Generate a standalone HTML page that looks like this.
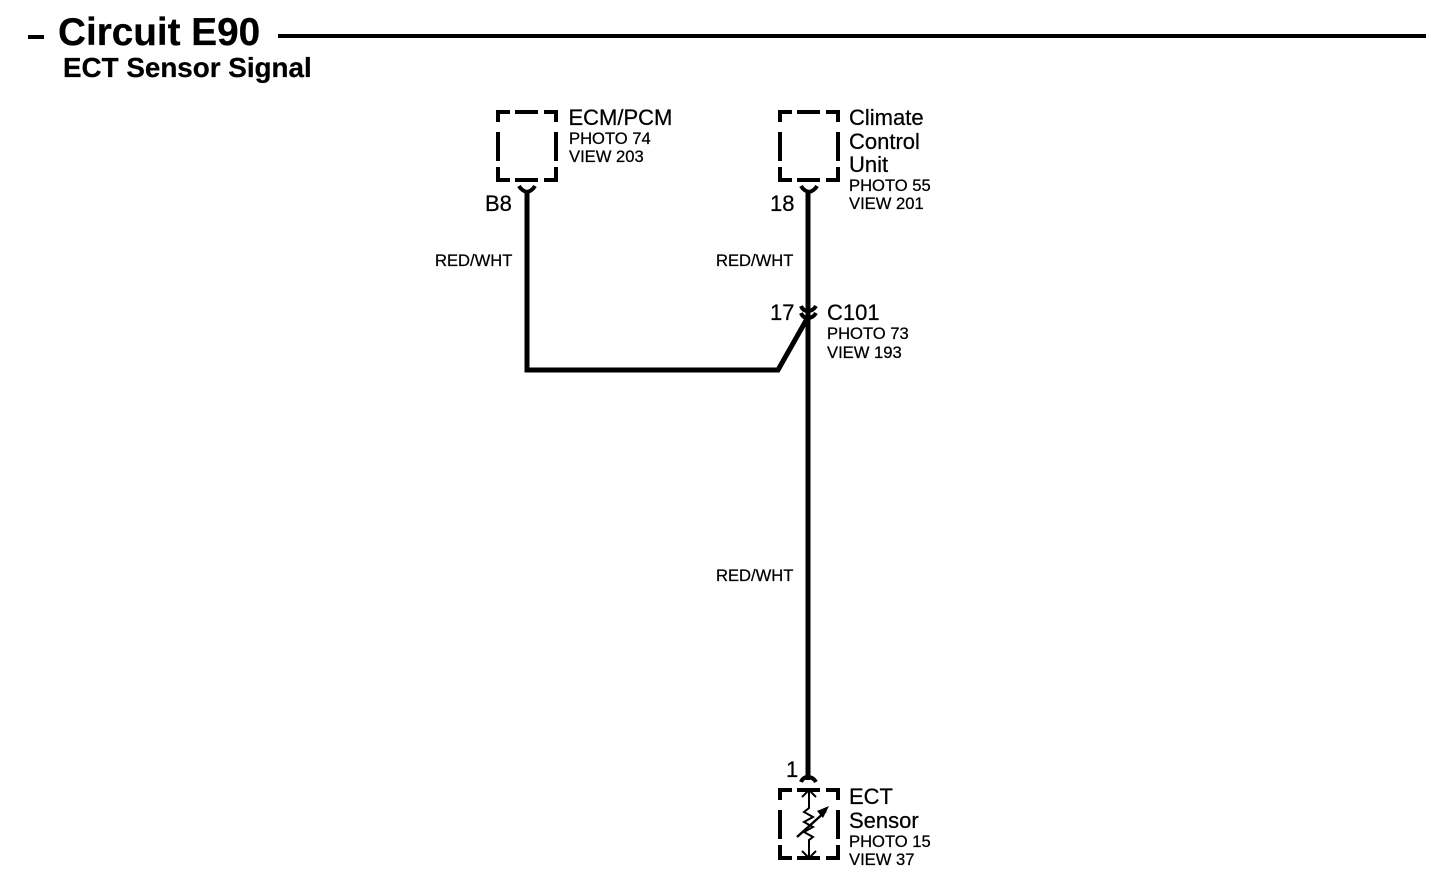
<!DOCTYPE html>
<html><head><meta charset="utf-8"><style>
html,body{margin:0;padding:0;background:#fff;width:1456px;height:892px;overflow:hidden}
svg{display:block}
text{font-family:"Liberation Sans",Arial,sans-serif;fill:#000;stroke:#000;stroke-width:.25px}
.a{font-size:22px}.b{font-size:16.6px}
</style></head><body>
<svg width="1456" height="892" viewBox="0 0 1456 892" xmlns="http://www.w3.org/2000/svg">
<defs>
<g id="box" fill="none" stroke="#000" stroke-width="4">
<path d="M2 12V2H14M19 2H42M48 2H60V12M2 22V51M60 22V51M2 57V70H14M19 70H42M48 70H60V57"/>
</g>
</defs>
<!-- title -->
<rect x="28" y="35" width="16" height="4"/>
<rect x="278" y="34" width="1148" height="4"/>
<text x="58" y="45" font-size="38.700" font-weight="700">Circuit E90</text>
<text x="63" y="77" font-size="27.800" font-weight="700">ECT Sensor Signal</text>

<!-- ECM -->
<use href="#box" x="496" y="110"/>
<text class="a" x="568.500" y="125">ECM/PCM</text>
<text class="b" x="569" y="144">PHOTO 74</text>
<text class="b" x="569" y="162">VIEW 203</text>
<text class="a" x="485" y="211">B8</text>
<text class="b" x="435" y="266">RED/WHT</text>

<!-- Climate -->
<use href="#box" x="778" y="110"/>
<text class="a" x="849" y="125">Climate</text>
<text class="a" x="849" y="149">Control</text>
<text class="a" x="849" y="172">Unit</text>
<text class="b" x="849" y="191">PHOTO 55</text>
<text class="b" x="849" y="209">VIEW 201</text>
<text class="a" x="770" y="211">18</text>
<text class="b" x="716" y="266">RED/WHT</text>

<!-- wires -->
<g fill="none" stroke="#000" stroke-width="5">
<path d="M527 192V370H778L808 317"/>
<path d="M808 192V780"/>
<path d="M519 186Q522 191 527 192Q532 191 535 186" stroke-width="4"/>
<path d="M801 186Q804 191 809 192Q814 191 817 186" stroke-width="4"/>
<path d="M801 306Q803 311 808 311Q813 311 816 306" stroke-width="4"/>
<path d="M801 313Q803 318 808 318Q813 318 816 313" stroke-width="4"/>
<path d="M801 782Q803 777 808 777Q813 777 816 782" stroke-width="4"/>
</g>
<text class="a" x="770" y="320">17</text>
<text class="a" x="827" y="320">C101</text>
<text class="b" x="827" y="339">PHOTO 73</text>
<text class="b" x="827" y="358">VIEW 193</text>
<text class="b" x="716" y="581">RED/WHT</text>

<!-- ECT sensor -->
<use href="#box" x="778" y="788"/>
<text class="a" x="786" y="777">1</text>
<text class="a" x="849" y="804">ECT</text>
<text class="a" x="849" y="828">Sensor</text>
<text class="b" x="849" y="847">PHOTO 15</text>
<text class="b" x="849" y="865">VIEW 37</text>
<g fill="none" stroke="#000" stroke-width="2">
<path d="M809 790V808L804 812L813 817L804 822L813 827L804 832L813 837L809 840V858"/>
<path d="M802 797L809 790L816 797"/>
<path d="M802 851L809 858L816 851"/>
<path d="M797 837L826 811" stroke-width="2.500"/>
</g>
<path d="M829 806L817 811L823 818Z"/>
</svg>
</body></html>
